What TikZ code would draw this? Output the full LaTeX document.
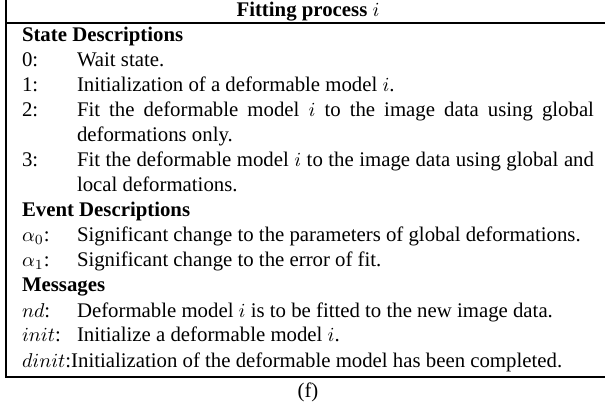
\documentclass[tikz,border=0pt]{standalone}
\usepackage{fontspec}
\setmainfont{Liberation Serif}
\newlength{\descw}
\setlength{\descw}{258.5pt}
\begin{document}
\begin{tikzpicture}[x=0.5pt,y=-0.5pt,
  txt/.style={anchor=base west, inner sep=0pt, outer sep=0pt, font=\fontsize{10.4}{12.5}\selectfont},
  ctxt/.style={txt, anchor=base},
  rule/.style={line width=1.25pt}]
\useasboundingbox (0,0) rectangle (605,406);
\clip (0,0) rectangle (605,406);
% frame
\coordinate (tl) at (6,-5);
\coordinate (bl) at (6,377);
\coordinate (br) at (615,377);
\coordinate (hl) at (6,23);
\coordinate (hr) at (615,23);
\draw[rule] (tl) -- (bl) -- (br);
\draw[rule] (hl) -- (hr);
% header
\node[ctxt] (head) at (308,17) {\bfseries Fitting process $i$};
% state descriptions
\node[txt] (sd) at (22,42) {\bfseries State Descriptions};
\node[txt] (s0) at (22,67) {0:};
\node[txt] (d0) at (77,67) {Wait state.};
\node[txt] (s1) at (22,92) {1:};
\node[txt] (d1) at (77,92) {Initialization of a deformable model $i$.};
\node[txt] (s2) at (22,117) {2:};
\node[txt] (d2a) at (77,117) {\makebox[\descw][s]{Fit the deformable model $i$ to the image data using global}};
\node[txt] (d2b) at (77,142) {deformations only.};
\node[txt] (s3) at (22,167) {3:};
\node[txt] (d3a) at (77,167) {\makebox[\descw][s]{Fit the deformable model $i$ to the image data using global and}};
\node[txt] (d3b) at (77,192) {local deformations.};
% event descriptions
\node[txt] (ed) at (22,217) {\bfseries Event Descriptions};
\node[txt] (e0) at (22,242) {$\alpha_0$:};
\node[txt] (f0) at (77,242) {Significant change to the parameters of global deformations.};
\node[txt] (e1) at (22,267) {$\alpha_1$:};
\node[txt] (f1) at (77,267) {Significant change to the error of fit.};
% messages
\node[txt] (ms) at (22,292) {\bfseries Messages};
\node[txt] (m0) at (22,317) {$nd$:};
\node[txt] (n0) at (77,317) {Deformable model $i$ is to be fitted to the new image data.};
\node[txt] (m1) at (22,342) {$init$:};
\node[txt] (n1) at (77,342) {Initialize a deformable model $i$.};
\node[txt] (m2) at (22,367) {$dinit$:Initialization of the deformable model has been completed.};
% caption
\node[ctxt] (cap) at (308,397) {(f)};
\end{tikzpicture}
\end{document}
